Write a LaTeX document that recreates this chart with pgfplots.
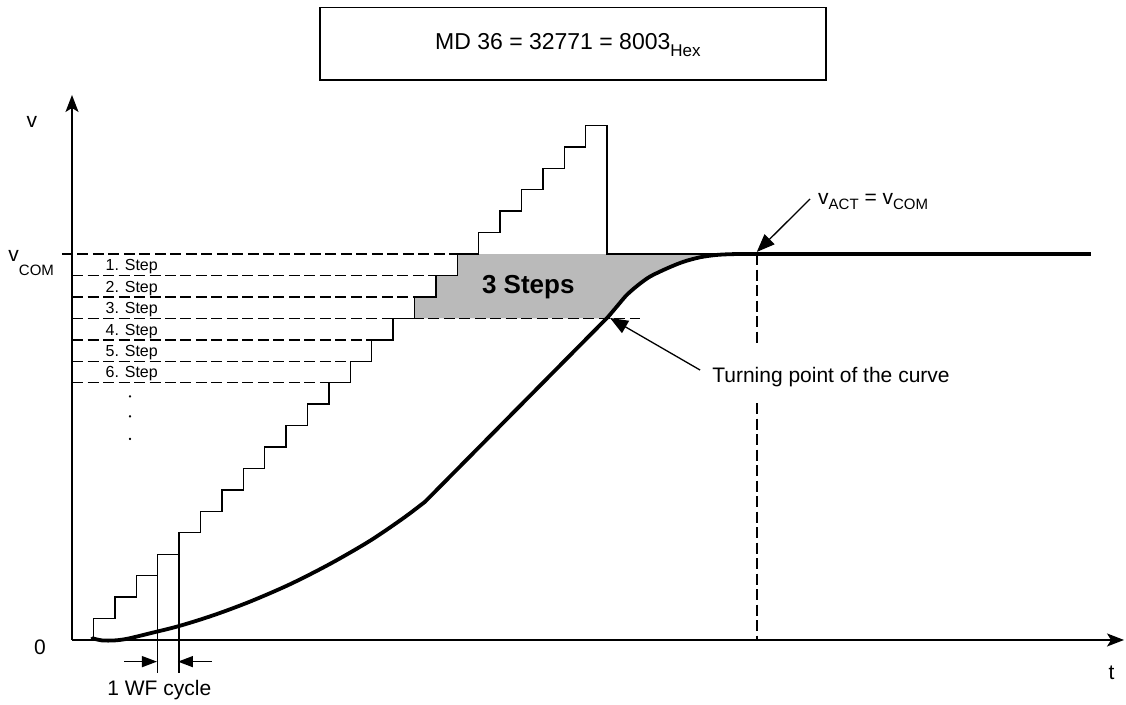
\documentclass[border=0pt]{standalone}
\usepackage{pgfplots}
\pgfplotsset{compat=1.18}
\usepackage{fontspec}
\setmainfont{Liberation Sans}
\usetikzlibrary{arrows.meta}
\begin{document}
\begin{tikzpicture}
\begin{axis}[
  scale only axis, width=1126pt, height=705pt,
  xmin=-3.3645, xmax=49.2523, ymin=-3.0317, ymax=29.8507,
  hide axis, clip=false, no markers,
  thin line/.style={black, line width=1.4pt, line join=miter},
  dline/.style={black, line width=1.5pt, dash pattern=on 11pt off 4.5pt},
  thick line/.style={black, line width=3.8pt, line cap=round, line join=round},
]
\path (rel axis cs:0,0) rectangle (rel axis cs:1,1);

% shaded area: 3 steps
\addplot[draw=none, fill=black!27] coordinates {
 (16,15)(16,16)(17,16)(17,17)(18,17)(18,18)(31,18)(30.13,17.96)(29.35,17.85)
 (28.57,17.64)(27.8,17.33)(27.01,16.95)(26.45,16.55)(25.92,16.09)(25.5,15.6)
 (25.06,15.08)(25.0,15)} -- cycle;

% dashed step levels
\addplot[dline] coordinates {(-0.47,18)(18,18)};
\addplot[dline] coordinates {(0,17)(17,17)};
\addplot[dline] coordinates {(0,16)(16,16)};
\addplot[dline] coordinates {(0,15)(26.54,15)};
\addplot[dline] coordinates {(0,14)(14,14)};
\addplot[dline] coordinates {(0,13)(13,13)};
\addplot[dline] coordinates {(0,12)(12,12)};
% vertical dashed at v_ACT = v_COM
\addplot[dline] coordinates {(32,18)(32,13.67)};
\addplot[dline] coordinates {(32,11.05)(32,0)};

% staircase (setpoint)
\addplot[thin line, const plot] coordinates {
 (1,0)(1,1)(2,2)(3,3)(4,4)(5,5)(6,6)(7,7)(8,8)(9,9)(10,10)(11,11)(12,12)
 (13,13)(14,14)(15,15)(16,16)(17,17)(18,18)(19,19)(20,20)(21,21)(22,22)
 (23,23)(24,24)(25,18)(32,18)};
\addplot[thin line] coordinates {(4,4)(4,-1.54)};
\addplot[thin line] coordinates {(5,5)(5,-1.54)};

% actual velocity curve
\addplot[thick line, smooth] coordinates {
 (0.95,0.08)(1.4,-0.02)(2.0,-0.02)(2.6,0.06)(3.64,0.31)(5.0,0.65)(6.6,1.15)
 (8.32,1.79)(10.19,2.60)(12.06,3.55)(13.93,4.63)(15.48,5.68)(16.5,6.45)};
\addplot[thick line] coordinates {(16.5,6.45)(25.06,15.08)};
\addplot[thick line, smooth] coordinates {
 (25.06,15.08)(25.5,15.6)(25.92,16.09)(26.45,16.55)(27.01,16.95)(27.8,17.33)
 (28.57,17.64)(29.35,17.85)(30.13,17.96)(31.0,18.0)(32,18)};
\addplot[black, line width=3.4pt] coordinates {(32,18)(47.6,18)};

% dots below the step labels
\addplot[black, only marks, mark=*, mark size=0.9pt] coordinates {(2.71,11.36)(2.71,10.43)(2.71,9.38)};

% axes
\draw[black, line width=1.6pt, -{Stealth[length=17pt,width=13pt,inset=4pt]}] (axis cs:0,0) -- (axis cs:49.16,0);
\draw[black, line width=1.6pt, -{Stealth[length=17pt,width=13pt,inset=4pt]}] (axis cs:0,0) -- (axis cs:0,25.42);

% annotation arrows
\draw[black, line width=1.3pt, -{Triangle[length=18pt,width=14pt]}] (axis cs:34.49,20.57) -- (axis cs:32.0,18.1);
\draw[black, line width=1.3pt, -{Triangle[length=18pt,width=14pt]}] (axis cs:29.35,12.59) -- (axis cs:25.14,15.02);
\draw[black, line width=1.3pt, -{Triangle[length=15pt,width=11pt]}] (axis cs:2.43,-1.01) -- (axis cs:3.97,-1.01);
\draw[black, line width=1.3pt, -{Triangle[length=15pt,width=11pt]}] (axis cs:6.53,-1.01) -- (axis cs:4.95,-1.01);

% top box
\draw[black, line width=1.5pt] (axis cs:11.59,29.51) rectangle (axis cs:35.23,26.13);
\node[anchor=base west, inner sep=0] at (axis cs:16.96,27.52)
  {\fontsize{23}{27}\selectfont MD 36 = 32771 = 8003\raisebox{-6.5pt}{\fontsize{17}{20}\selectfont Hex}};

% labels
\node[anchor=base, inner sep=0] at (axis cs:-1.88,23.91) {\fontsize{21}{25}\selectfont v};
\node[anchor=base west, inner sep=0] at (axis cs:-2.98,17.64)
  {\fontsize{21}{25}\selectfont v\raisebox{-14pt}{\fontsize{15}{18}\selectfont COM}};
\node[anchor=center, inner sep=0] at (axis cs:-1.5,-0.33) {\fontsize{21}{25}\selectfont 0};
\node[anchor=center, inner sep=0] at (axis cs:48.58,-1.55) {\fontsize{21}{25}\selectfont t};
\node[anchor=base, inner sep=0] at (axis cs:4.08,-2.60) {\fontsize{21}{25}\selectfont 1 WF cycle};
\node[anchor=base west, inner sep=0] at (axis cs:29.91,12.0) {\fontsize{21}{25}\selectfont Turning point of the curve};
\node[anchor=base west, inner sep=0] at (axis cs:34.86,20.29)
  {\fontsize{21}{25}\selectfont v\raisebox{-5pt}{\fontsize{15}{18}\selectfont ACT} = v\raisebox{-5pt}{\fontsize{15}{18}\selectfont COM}};
\node[anchor=base, inner sep=0] at (axis cs:21.32,16.14) {\fontsize{26}{30}\selectfont\bfseries 3 Steps};

% step labels
\node[anchor=base, inner sep=0] at (axis cs:2.79,17.22) {\fontsize{16}{19}\selectfont 1. Step};
\node[anchor=base, inner sep=0] at (axis cs:2.79,16.22) {\fontsize{16}{19}\selectfont 2. Step};
\node[anchor=base, inner sep=0] at (axis cs:2.79,15.22) {\fontsize{16}{19}\selectfont 3. Step};
\node[anchor=base, inner sep=0] at (axis cs:2.79,14.22) {\fontsize{16}{19}\selectfont 4. Step};
\node[anchor=base, inner sep=0] at (axis cs:2.79,13.22) {\fontsize{16}{19}\selectfont 5. Step};
\node[anchor=base, inner sep=0] at (axis cs:2.79,12.22) {\fontsize{16}{19}\selectfont 6. Step};
\end{axis}
\end{tikzpicture}
\end{document}
